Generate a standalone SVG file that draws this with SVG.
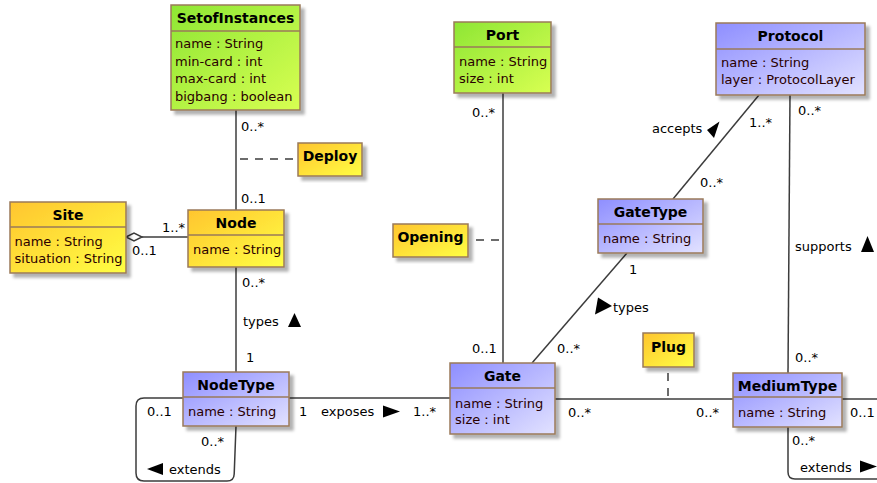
<svg xmlns="http://www.w3.org/2000/svg" width="877" height="483" viewBox="0 0 877 483">
<style>
text{font-family:"DejaVu Sans","Liberation Sans",sans-serif;font-size:13px;fill:#000}
.t{font-weight:bold;font-size:14px;text-anchor:middle}
.a{fill:#2a0000}
.box{stroke:#9a7a5a;stroke-width:1.5;filter:url(#sh)}
.sep{stroke:#9a7a5a;stroke-width:1.5}
.ln{stroke:#3c3c3c;stroke-width:1.5;fill:none}
.ds{stroke:#3c3c3c;stroke-width:1.5;fill:none;stroke-dasharray:8,7}
.tri{fill:#000}
</style>
<defs>
<linearGradient id="gB" x1="0" y1="0" x2="1" y2="1"><stop offset="0" stop-color="#8e8eff"/><stop offset="1" stop-color="#e2e2ff"/></linearGradient>
<linearGradient id="gY" x1="0" y1="0" x2="1" y2="1"><stop offset="0" stop-color="#ffc52e"/><stop offset="1" stop-color="#ffff44"/></linearGradient>
<linearGradient id="gG" x1="0" y1="0" x2="1" y2="1"><stop offset="0" stop-color="#8ee634"/><stop offset="1" stop-color="#d8ff52"/></linearGradient>
<filter id="sh" x="-10%" y="-10%" width="130%" height="130%"><feDropShadow dx="4" dy="4" stdDeviation="1.6" flood-color="#000" flood-opacity="0.3"/></filter>
</defs>

<g id="connectors">
<!-- SetofInstances - Node -->
<line class="ln" x1="236" y1="110" x2="236" y2="210"/>
<text x="241" y="131">0..*</text>
<text x="241" y="203">0..1</text>
<line class="ds" x1="236" y1="159" x2="293" y2="159" stroke-dashoffset="-4"/>
<!-- Site - Node -->
<line class="ln" x1="142" y1="237" x2="188" y2="237"/>
<polygon points="126,237 134,233 142,237 134,241" fill="#fff" stroke="#3c3c3c" stroke-width="1.5"/>
<text x="162" y="232">1..*</text>
<text x="132" y="255">0..1</text>
<!-- Node - NodeType -->
<line class="ln" x1="236" y1="267" x2="236" y2="372"/>
<text x="242" y="287">0..*</text>
<text x="243" y="326">types</text>
<polygon class="tri" points="294.5,313 301,327 288,327"/>
<text x="246" y="362">1</text>
<!-- NodeType - Gate -->
<line class="ln" x1="289" y1="398" x2="450" y2="398"/>
<text x="299" y="416">1</text>
<text x="321" y="416">exposes</text>
<polygon class="tri" points="383,405.5 400,411.5 383,417.5"/>
<text x="413" y="416">1..*</text>
<!-- NodeType extends loop -->
<path class="ln" d="M183,398 H144 Q136,398 136,406 V473 Q136,481 144,481 H227 Q234,481 234.2,474 L236,426"/>
<text x="147" y="416">0..1</text>
<text x="201" y="446">0..*</text>
<polygon class="tri" points="147,469 163,463 163,475"/>
<text x="169" y="474">extends</text>
<!-- Port - Gate -->
<line class="ln" x1="503" y1="93" x2="503" y2="363"/>
<text x="472" y="117">0..*</text>
<text x="472" y="353">0..1</text>
<line class="ds" x1="476" y1="240" x2="503" y2="240"/>
<!-- Protocol - GateType (accepts) -->
<line class="ln" x1="759" y1="95" x2="673" y2="199"/>
<text x="749" y="127">1..*</text>
<text x="700" y="187">0..*</text>
<text x="652" y="133">accepts</text>
<polygon class="tri" points="707,130 719.5,121.5 714,138"/>
<!-- Protocol - MediumType (supports) -->
<line class="ln" x1="790" y1="95" x2="788" y2="373"/>
<text x="798" y="115">0..*</text>
<text x="795" y="251">supports</text>
<polygon class="tri" points="867.5,236 874,252 861,252"/>
<text x="795" y="362">0..*</text>
<!-- GateType - Gate (types) -->
<line class="ln" x1="627" y1="253" x2="532" y2="363"/>
<text x="629" y="274">1</text>
<polygon class="tri" points="598,297.5 612,306 595,314.5"/>
<text x="613" y="312">types</text>
<text x="557" y="353">0..*</text>
<!-- Gate - MediumType -->
<line class="ln" x1="555" y1="399" x2="733" y2="399"/>
<text x="568" y="417">0..*</text>
<text x="696" y="417">0..*</text>
<line class="ds" x1="668" y1="373" x2="668" y2="399"/>
<!-- MediumType extends loop -->
<path class="ln" d="M842,399 H877"/>
<path class="ln" d="M788,427 V472 Q788,479 795,479 H877"/>
<text x="850" y="417">0..1</text>
<text x="792" y="445">0..*</text>
<text x="800" y="472">extends</text>
<polygon class="tri" points="860,460.5 877,466.5 860,472.5"/>
</g>

<g id="SetofInstances">
<rect class="box" x="171" y="5" width="129" height="105" fill="url(#gG)"/>
<line class="sep" x1="171" y1="31" x2="300" y2="31"/>
<text class="t" x="235.5" y="23">SetofInstances</text>
<text class="a" x="175" y="48">name : String</text>
<text class="a" x="175" y="65.5">min-card : int</text>
<text class="a" x="175" y="83">max-card : int</text>
<text class="a" x="175" y="100.5">bigbang : boolean</text>
</g>

<g id="Port">
<rect class="box" x="454" y="22" width="97" height="71" fill="url(#gG)"/>
<line class="sep" x1="454" y1="47" x2="551" y2="47"/>
<text class="t" x="502.5" y="40">Port</text>
<text class="a" x="459" y="66">name : String</text>
<text class="a" x="459" y="83">size : int</text>
</g>

<g id="Protocol">
<rect class="box" x="716" y="23" width="149" height="72" fill="url(#gB)"/>
<line class="sep" x1="716" y1="49" x2="865" y2="49"/>
<text class="t" x="790.5" y="41">Protocol</text>
<text class="a" x="721" y="67">name : String</text>
<text class="a" x="721" y="84">layer : ProtocolLayer</text>
</g>

<g id="Deploy">
<rect class="box" x="298" y="143" width="64" height="33" fill="url(#gY)"/>
<text class="t" x="330" y="161">Deploy</text>
</g>

<g id="Site">
<rect class="box" x="10" y="202" width="116" height="71" fill="url(#gY)"/>
<line class="sep" x1="10" y1="227" x2="126" y2="227"/>
<text class="t" x="68" y="220">Site</text>
<text class="a" x="14.5" y="245.5">name : String</text>
<text class="a" x="14.5" y="262.5">situation : String</text>
</g>

<g id="Node">
<rect class="box" x="188" y="210" width="96" height="57" fill="url(#gY)"/>
<line class="sep" x1="188" y1="235" x2="284" y2="235"/>
<text class="t" x="236" y="228">Node</text>
<text class="a" x="193" y="254">name : String</text>
</g>

<g id="GateType">
<rect class="box" x="598" y="199" width="105" height="54" fill="url(#gB)"/>
<line class="sep" x1="598" y1="224" x2="703" y2="224"/>
<text class="t" x="650.5" y="217">GateType</text>
<text class="a" x="603" y="243">name : String</text>
</g>

<g id="Opening">
<rect class="box" x="393" y="224" width="75" height="33" fill="url(#gY)"/>
<text class="t" x="430.5" y="242">Opening</text>
</g>

<g id="Plug">
<rect class="box" x="643" y="333" width="51" height="34" fill="url(#gY)"/>
<text class="t" x="668.5" y="352">Plug</text>
</g>

<g id="NodeType">
<rect class="box" x="183" y="372" width="106" height="54" fill="url(#gB)"/>
<line class="sep" x1="183" y1="397" x2="289" y2="397"/>
<text class="t" x="236" y="390">NodeType</text>
<text class="a" x="188" y="416">name : String</text>
</g>

<g id="Gate">
<rect class="box" x="450" y="363" width="105" height="71" fill="url(#gB)"/>
<line class="sep" x1="450" y1="388" x2="555" y2="388"/>
<text class="t" x="502.5" y="381">Gate</text>
<text class="a" x="455" y="407.5">name : String</text>
<text class="a" x="455" y="423.5">size : int</text>
</g>

<g id="MediumType">
<rect class="box" x="733" y="373" width="109" height="54" fill="url(#gB)"/>
<line class="sep" x1="733" y1="397" x2="842" y2="397"/>
<text class="t" x="787.5" y="391">MediumType</text>
<text class="a" x="738" y="417">name : String</text>
</g>
</svg>
